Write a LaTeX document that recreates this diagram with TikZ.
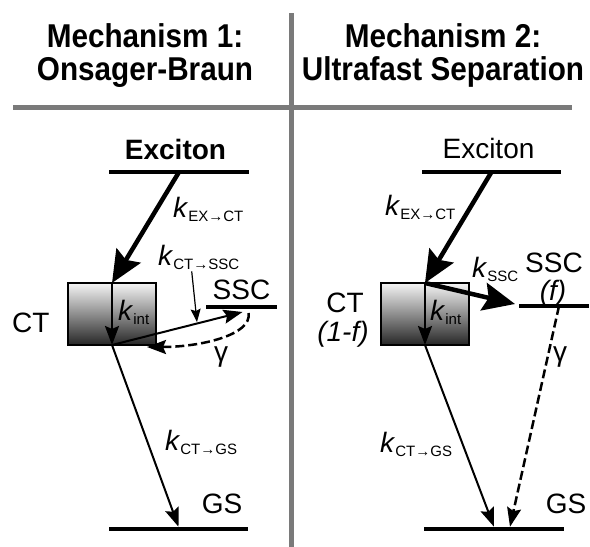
\documentclass[tikz,border=0pt]{standalone}
\usepackage{fontspec}
\setmainfont{Liberation Sans}
\newfontfamily\headfont[FakeStretch=0.9]{Liberation Sans}
\usetikzlibrary{arrows.meta,calc}

% rate constant: italic k with an upright subscript
\newcommand{\rate}[1]{\textit{k}\raisebox{-4pt}{\fontsize{15}{15}\selectfont #1}}

\tikzset{
  lbl/.style={font=\fontsize{28}{28}\selectfont, inner sep=0},
  title/.style={font=\headfont\fontsize{33}{33}\selectfont\bfseries, inner sep=0, anchor=base},
  level/.style={fill=black, draw=none, inner sep=0, outer sep=0, minimum height=4.5pt},
  ctbox/.style={draw=black, line width=1.5pt, top color=gray!8, bottom color=black!85,
    minimum width=88pt, minimum height=62pt, inner sep=0, outer sep=0},
  bigarrow/.style={line width=4.5pt, -{Stealth[length=32pt,width=28pt,inset=5pt]}},
  thinarrow/.style={line width=2pt, -{Stealth[length=19pt,width=14pt,inset=3pt]}},
  pointer/.style={line width=1.2pt, -{Stealth[length=13pt,width=10pt,inset=2pt]}},
  dasharrow/.style={line width=2.5pt, dash pattern=on 9pt off 4pt,
    -{Stealth[length=19pt,width=14pt,inset=3pt]}},
  divider/.style={draw=black!52, line width=5pt},
}

\begin{document}
\begin{tikzpicture}[x=1pt,y=-1pt]
\useasboundingbox (0,0) rectangle (590,547);

% panel dividers
\coordinate (vtop) at (291,13);
\coordinate (vbot) at (291,547);
\coordinate (hleft) at (13,107);
\coordinate (hright) at (572,107);
\draw[divider] (vtop) -- (vbot);
\draw[divider] (hleft) -- (hright);

% headings
\node[title] (t1a) at (145,47) {Mechanism 1:};
\node[title] (t1b) at (145,80) {Onsager-Braun};
\node[title] (t2a) at (443,47) {Mechanism 2:};
\node[title] (t2b) at (443,80) {Ultrafast Separation};

% ---------- mechanism 1 ----------
\node[level, minimum width=140pt] (exL) at (179,172) {};
\node[level, minimum width=71pt] (sscL) at (241.5,307) {};
\node[level, minimum width=139pt] (gsL) at (178.5,529) {};
\node[ctbox] (ctL) at (112,314) {};

\node[lbl, anchor=base] (exLt) at (175.5,159) {\textbf{Exciton}};
\node[lbl, anchor=base west] (ctLt) at (12,332) {CT};
\node[lbl, anchor=base] (sscLt) at (241.5,299) {SSC};
\node[lbl, anchor=base] (gsLt) at (222,513) {GS};
\node[lbl, anchor=base west] (kexL) at (173,217) {\rate{EX→CT}};
\node[lbl, anchor=base west] (kcs) at (158,265) {\rate{CT→SSC}};
\node[lbl, anchor=base west] (kintL) at (118,320) {\rate{int}};
\node[lbl, anchor=base] (gamL) at (221,361) {γ};
\node[lbl, anchor=base west] (kcgL) at (165,450) {\rate{CT→GS}};

\draw[bigarrow] (exL.center) -- (ctL.north);
\draw[thinarrow] (ctL.north) -- (ctL.south);
\draw[thinarrow] (ctL.south) -- (gsL.north);
\draw[thinarrow] (ctL.south) -- ($(sscL.center)+(1,5)$);
\draw[dasharrow] ($(sscL.center)+(7,6)$) .. controls +(4,22) and +(53,0) .. ($(ctL.south east)+(-9,2)$);
\coordinate (hit) at (197,322);
\draw[pointer] ($(kcs.south)+(-7,2)$) -- (hit);

% ---------- mechanism 2 ----------
\node[level, minimum width=139pt] (exR) at (491.5,172) {};
\node[level, minimum width=70pt] (sscR) at (554,306) {};
\node[level, minimum width=140pt] (gsR) at (494,529) {};
\node[ctbox] (ctR) at (425,314) {};

\node[lbl, anchor=base] (exRt) at (488.5,158) {Exciton};
\node[lbl, anchor=base] (ctRt) at (345,312) {CT};
\node[lbl, anchor=base] (fCT) at (343,341) {\textit{(1-f)}};
\node[lbl, anchor=base] (sscRt) at (554,272) {SSC};
\node[lbl, anchor=base] (fSSC) at (553,300) {\textit{(f)}};
\node[lbl, anchor=base] (gsRt) at (566,513) {GS};
\node[lbl, anchor=base west] (kexR) at (385,215) {\rate{EX→CT}};
\node[lbl, anchor=base west] (kssc) at (472,277) {\rate{SSC}};
\node[lbl, anchor=base west] (kintR) at (430,320) {\rate{int}};
\node[lbl, anchor=base] (gamR) at (560,361) {γ};
\node[lbl, anchor=base west] (kcgR) at (380,452) {\rate{CT→GS}};

\draw[bigarrow] (exR.center) -- (ctR.north);
\draw[thinarrow] (ctR.north) -- (ctR.south);
\draw[bigarrow] (ctR.north) -- ($(sscR.west)+(-4,-2)$);
\draw[thinarrow] (ctR.south) -- (gsR.north);
\draw[dasharrow] ($(sscR.center)+(5,0)$) -- ($(gsR.north)+(16,0)$);
\end{tikzpicture}
\end{document}
